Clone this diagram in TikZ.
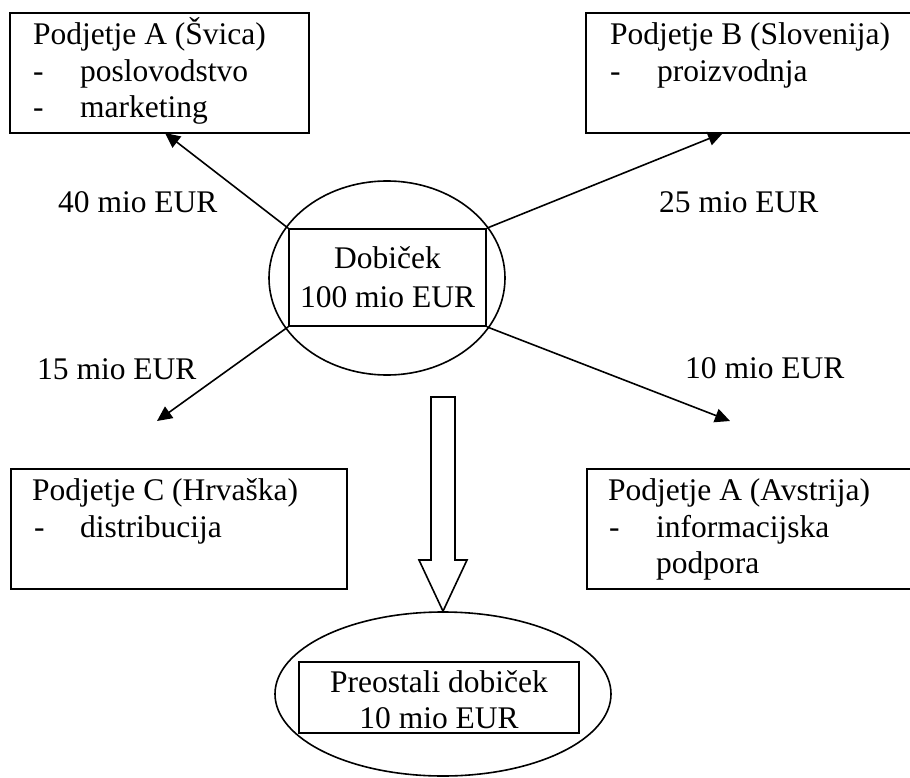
\documentclass[tikz,border=0pt]{standalone}
\usepackage{fontspec}
\setmainfont{Liberation Serif}
\usetikzlibrary{arrows.meta,shapes.geometric}
\begin{document}
\begin{tikzpicture}[x=1pt,y=-1pt,
  txt/.style={inner sep=0pt,anchor=base west,font=\fontsize{31.5}{36}\selectfont},
  ctxt/.style={inner sep=0pt,anchor=base,font=\fontsize{31.5}{36}\selectfont},
  boxs/.style={draw,line width=1.9pt,inner sep=0pt},
  arr/.style={line width=1.6pt,-{Triangle[length=15pt,width=14pt]}},
  ell/.style={draw,ellipse,line width=1.6pt,inner sep=0pt}]
\useasboundingbox (0,0) rectangle (910,778);
% company boxes
\node[boxs,minimum width=299pt,minimum height=120pt] (A) at (159.5,73) {};
\node[boxs,minimum width=330pt,minimum height=120pt] (B) at (751,73) {};
\node[boxs,minimum width=336pt,minimum height=120pt] (C) at (179,529) {};
\node[boxs,minimum width=330pt,minimum height=120pt] (D) at (752,529) {};
% texts in boxes
\node[txt] (a1) at (33,45) {Podjetje A (Švica)};
\node[txt] (a2) at (33,82) {-};
\node[txt] (a3) at (80,82) {poslovodstvo};
\node[txt] (a4) at (33,118) {-};
\node[txt] (a5) at (80,118) {marketing};
\node[txt] (b1) at (610,45) {Podjetje B (Slovenija)};
\node[txt] (b2) at (610,82) {-};
\node[txt] (b3) at (657,82) {proizvodnja};
\node[txt] (c1) at (32,500) {Podjetje C (Hrvaška)};
\node[txt] (c2) at (34,537) {-};
\node[txt] (c3) at (80,537) {distribucija};
\node[txt] (d1) at (608,500) {Podjetje A (Avstrija)};
\node[txt] (d2) at (609,537) {-};
\node[txt] (d3) at (656,537) {informacijska};
\node[txt] (d4) at (656,573) {podpora};
% central profit
\node[ell,minimum width=236pt,minimum height=194pt] (E) at (387,278) {};
\node[boxs,line width=1.6pt,minimum width=197pt,minimum height=97pt] (P) at (387.5,277.5) {};
\node[ctxt] (p1) at (387.5,268) {Dobiček};
\node[ctxt] (p2) at (387.5,307) {100 mio EUR};
% amounts
\node[txt] (l1) at (58,212) {40 mio EUR};
\node[txt] (l2) at (659,212) {25 mio EUR};
\node[txt] (l3) at (37,379) {15 mio EUR};
\node[txt] (l4) at (685,378) {10 mio EUR};
% arrows
\coordinate (tA) at (165,133);
\coordinate (tB) at (723,133);
\coordinate (tC) at (157,421);
\coordinate (tD) at (730,421);
\draw[arr] (P.north west) -- (tA);
\draw[arr] (P.north east) -- (tB);
\draw[arr] (P.south west) -- (tC);
\draw[arr] (P.south east) -- (tD);
% remaining profit
\node[ell,minimum width=336pt,minimum height=164pt] (F) at (443,694) {};
\node[boxs,line width=1.6pt,minimum width=280pt,minimum height=71pt] (R) at (439,697.5) {};
\node[ctxt] (r1) at (439,692) {Preostali dobiček};
\node[ctxt] (r2) at (439,728) {10 mio EUR};
% block arrow
\draw[line width=1.6pt,line join=miter] (431,397) -- (455,397) -- (455,560) -- (467,560) -- (F.north) -- (419,560) -- (431,560) -- cycle;
\end{tikzpicture}
\end{document}
